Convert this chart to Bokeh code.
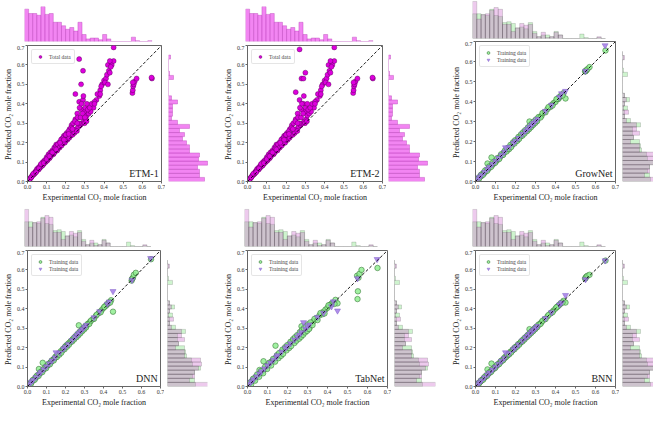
import numpy as np
from bokeh.plotting import figure
from bokeh.layouts import row, column
from bokeh.models import (Range1d, FixedTicker, PrintfTickFormatter, Slope, Label,
                          Legend, LegendItem)
from bokeh.core.properties import value
from bokeh.embed import file_html
from bokeh.resources import INLINE

# ---- data ----
tick_values = [0.0, 0.1, 0.2, 0.3, 0.4, 0.5, 0.6, 0.7]

exp_train = [0.005, 0.01, 0.015, 0.02, 0.025, 0.03, 0.035, 0.04, 0.045, 0.05,
             0.055, 0.06, 0.065, 0.07, 0.075, 0.08, 0.085, 0.09, 0.095, 0.10,
             0.105, 0.11, 0.115, 0.12, 0.125, 0.13, 0.135, 0.14, 0.145, 0.15,
             0.16, 0.165, 0.17, 0.18, 0.185, 0.19, 0.20, 0.205, 0.21, 0.22,
             0.225, 0.23, 0.24, 0.25, 0.255, 0.26, 0.265, 0.27, 0.275, 0.28,
             0.285, 0.29, 0.295, 0.30, 0.305, 0.31, 0.32, 0.33, 0.345, 0.36,
             0.375, 0.38, 0.39, 0.40, 0.41, 0.415, 0.42, 0.425, 0.43, 0.44,
             0.45, 0.548, 0.55, 0.552, 0.555, 0.56, 0.57, 0.65,
             0.008, 0.018, 0.028, 0.038, 0.048, 0.058, 0.068, 0.078, 0.088, 0.098,
             0.108, 0.118, 0.128, 0.138, 0.148, 0.155, 0.158, 0.168, 0.175, 0.178,
             0.188, 0.195, 0.198, 0.208, 0.215, 0.218, 0.228, 0.235, 0.238, 0.245,
             0.248, 0.258, 0.262, 0.268, 0.272, 0.278, 0.282, 0.288, 0.292, 0.298,
             0.302, 0.308, 0.315, 0.325, 0.335, 0.35, 0.365, 0.385, 0.405, 0.435]
exp_test = [0.01, 0.02, 0.03, 0.045, 0.06, 0.07, 0.085, 0.10, 0.115, 0.13,
            0.145, 0.15, 0.17, 0.19, 0.20, 0.215, 0.235, 0.25, 0.26, 0.27,
            0.28, 0.29, 0.30, 0.31, 0.35, 0.38, 0.42, 0.43, 0.45, 0.55, 0.648]

etm1_train = [0.006, 0.012, 0.016, 0.024, 0.030, 0.035, 0.038, 0.050, 0.052, 0.065,
              0.060, 0.075, 0.070, 0.085, 0.080, 0.100, 0.090, 0.110, 0.100, 0.125,
              0.110, 0.140, 0.120, 0.150, 0.135, 0.160, 0.140, 0.175, 0.155, 0.190,
              0.170, 0.200, 0.185, 0.220, 0.195, 0.235, 0.210, 0.250, 0.220, 0.270,
              0.235, 0.290, 0.250, 0.320, 0.270, 0.350, 0.280, 0.410, 0.290, 0.370,
              0.300, 0.420, 0.310, 0.360, 0.320, 0.340, 0.350, 0.360, 0.380, 0.420,
              0.440, 0.470, 0.500, 0.520, 0.530, 0.550, 0.600, 0.570, 0.560, 0.600,
              0.620, 0.455, 0.470, 0.490, 0.500, 0.515, 0.530, 0.530,
              0.009, 0.020, 0.034, 0.042, 0.058, 0.062, 0.080, 0.082, 0.104, 0.105,
              0.130, 0.125, 0.152, 0.145, 0.180, 0.160, 0.190, 0.175, 0.215, 0.185,
              0.225, 0.200, 0.240, 0.215, 0.260, 0.225, 0.275, 0.240, 0.300, 0.250,
              0.310, 0.260, 0.330, 0.300, 0.380, 0.330, 0.400, 0.350, 0.440, 0.300,
              0.380, 0.310, 0.370, 0.380, 0.400, 0.410, 0.450, 0.490, 0.510, 0.590]
etm1_test = [0.010, 0.022, 0.040, 0.048, 0.068, 0.090, 0.095, 0.115, 0.130, 0.150,
             0.170, 0.165, 0.200, 0.215, 0.240, 0.245, 0.270, 0.450, 0.300, 0.630,
             0.500, 0.570, 0.330, 0.400, 0.400, 0.450, 0.500, 0.620, 0.690, 0.510, 0.535]

etm2_train = [0.006, 0.012, 0.016, 0.024, 0.030, 0.035, 0.038, 0.050, 0.052, 0.065,
              0.060, 0.075, 0.070, 0.085, 0.080, 0.100, 0.090, 0.110, 0.100, 0.125,
              0.110, 0.140, 0.120, 0.150, 0.135, 0.160, 0.140, 0.175, 0.155, 0.190,
              0.170, 0.200, 0.185, 0.220, 0.195, 0.235, 0.210, 0.250, 0.220, 0.270,
              0.235, 0.290, 0.250, 0.320, 0.270, 0.350, 0.280, 0.420, 0.290, 0.370,
              0.300, 0.400, 0.310, 0.360, 0.320, 0.340, 0.350, 0.360, 0.380, 0.420,
              0.440, 0.470, 0.500, 0.520, 0.530, 0.550, 0.600, 0.570, 0.560, 0.600,
              0.620, 0.455, 0.470, 0.490, 0.500, 0.515, 0.530, 0.530,
              0.009, 0.020, 0.034, 0.042, 0.058, 0.062, 0.080, 0.082, 0.104, 0.105,
              0.130, 0.125, 0.152, 0.145, 0.180, 0.160, 0.190, 0.175, 0.215, 0.185,
              0.225, 0.200, 0.240, 0.215, 0.260, 0.225, 0.275, 0.240, 0.300, 0.250,
              0.310, 0.260, 0.330, 0.300, 0.380, 0.330, 0.400, 0.350, 0.440, 0.300,
              0.380, 0.310, 0.370, 0.380, 0.400, 0.410, 0.450, 0.490, 0.510, 0.590]
etm2_test = [0.010, 0.022, 0.040, 0.048, 0.068, 0.090, 0.095, 0.115, 0.130, 0.150,
             0.170, 0.165, 0.200, 0.215, 0.240, 0.245, 0.270, 0.460, 0.300, 0.680,
             0.530, 0.530, 0.560, 0.400, 0.400, 0.450, 0.500, 0.620, 0.690, 0.510, 0.535]

grownet_train = [0.008, 0.012, 0.013, 0.022, 0.027, 0.028, 0.037, 0.042, 0.043, 0.052,
                 0.057, 0.090, 0.063, 0.072, 0.077, 0.120, 0.083, 0.092, 0.097, 0.102,
                 0.103, 0.112, 0.117, 0.118, 0.127, 0.132, 0.133, 0.142, 0.147, 0.152,
                 0.158, 0.167, 0.172, 0.178, 0.187, 0.192, 0.202, 0.207, 0.208, 0.222,
                 0.227, 0.228, 0.242, 0.252, 0.253, 0.262, 0.263, 0.300, 0.273, 0.282,
                 0.283, 0.292, 0.297, 0.302, 0.303, 0.312, 0.322, 0.328, 0.347, 0.362,
                 0.373, 0.382, 0.392, 0.398, 0.412, 0.413, 0.422, 0.427, 0.432, 0.442,
                 0.415, 0.550, 0.552, 0.553, 0.557, 0.562, 0.572, 0.655,
                 0.012, 0.015, 0.034, 0.034, 0.055, 0.053, 0.075, 0.073, 0.096, 0.093,
                 0.116, 0.112, 0.136, 0.133, 0.156, 0.150, 0.166, 0.162, 0.183, 0.172,
                 0.196, 0.190, 0.206, 0.203, 0.223, 0.213, 0.236, 0.230, 0.246, 0.240,
                 0.256, 0.252, 0.270, 0.262, 0.280, 0.272, 0.290, 0.283, 0.300, 0.292,
                 0.310, 0.302, 0.322, 0.320, 0.342, 0.346, 0.372, 0.380, 0.412, 0.430]
grownet_test = [0.012, 0.022, 0.032, 0.047, 0.062, 0.072, 0.087, 0.102, 0.117, 0.132,
                0.147, 0.170, 0.172, 0.192, 0.202, 0.217, 0.237, 0.252, 0.262, 0.272,
                0.282, 0.292, 0.302, 0.312, 0.352, 0.382, 0.422, 0.440, 0.452, 0.552, 0.680]

dnn_train = [0.007, 0.013, 0.017, 0.021, 0.028, 0.032, 0.036, 0.043, 0.047, 0.053,
             0.058, 0.090, 0.067, 0.073, 0.078, 0.122, 0.088, 0.093, 0.098, 0.104,
             0.108, 0.113, 0.118, 0.123, 0.128, 0.133, 0.138, 0.143, 0.148, 0.153,
             0.163, 0.168, 0.173, 0.183, 0.188, 0.193, 0.206, 0.212, 0.213, 0.224,
             0.228, 0.232, 0.243, 0.254, 0.258, 0.263, 0.268, 0.315, 0.278, 0.284,
             0.288, 0.295, 0.298, 0.304, 0.308, 0.313, 0.324, 0.334, 0.348, 0.364,
             0.378, 0.384, 0.393, 0.404, 0.414, 0.418, 0.424, 0.428, 0.434, 0.444,
             0.385, 0.545, 0.553, 0.556, 0.560, 0.575, 0.585, 0.655,
             0.011, 0.014, 0.033, 0.035, 0.054, 0.054, 0.074, 0.074, 0.094, 0.094,
             0.114, 0.114, 0.134, 0.134, 0.154, 0.152, 0.164, 0.164, 0.181, 0.174,
             0.194, 0.192, 0.204, 0.205, 0.221, 0.215, 0.234, 0.232, 0.244, 0.242,
             0.254, 0.254, 0.268, 0.264, 0.278, 0.274, 0.288, 0.285, 0.298, 0.294,
             0.308, 0.304, 0.320, 0.322, 0.340, 0.348, 0.370, 0.382, 0.410, 0.432]
dnn_test = [0.013, 0.023, 0.033, 0.048, 0.063, 0.073, 0.088, 0.103, 0.118, 0.133,
            0.148, 0.175, 0.174, 0.194, 0.204, 0.218, 0.238, 0.254, 0.265, 0.275,
            0.285, 0.295, 0.306, 0.316, 0.355, 0.386, 0.425, 0.436, 0.490, 0.548, 0.660]

tabnet_train = [0.009, 0.015, 0.020, 0.026, 0.031, 0.036, 0.042, 0.047, 0.052, 0.057,
                0.062, 0.085, 0.069, 0.075, 0.080, 0.130, 0.090, 0.096, 0.101, 0.107,
                0.111, 0.117, 0.122, 0.128, 0.131, 0.137, 0.142, 0.210, 0.152, 0.158,
                0.167, 0.172, 0.178, 0.188, 0.192, 0.198, 0.208, 0.213, 0.218, 0.229,
                0.232, 0.238, 0.249, 0.259, 0.262, 0.268, 0.272, 0.310, 0.282, 0.289,
                0.292, 0.299, 0.302, 0.294, 0.312, 0.302, 0.326, 0.336, 0.352, 0.366,
                0.372, 0.385, 0.396, 0.405, 0.418, 0.421, 0.426, 0.431, 0.428, 0.446,
                0.428, 0.570, 0.450, 0.490, 0.560, 0.580, 0.600, 0.610,
                0.016, 0.010, 0.040, 0.030, 0.062, 0.050, 0.080, 0.068, 0.102, 0.090,
                0.122, 0.108, 0.142, 0.128, 0.162, 0.146, 0.172, 0.158, 0.190, 0.168,
                0.202, 0.186, 0.212, 0.198, 0.230, 0.208, 0.244, 0.224, 0.254, 0.236,
                0.264, 0.246, 0.280, 0.256, 0.290, 0.266, 0.300, 0.278, 0.310, 0.286,
                0.320, 0.296, 0.330, 0.316, 0.348, 0.342, 0.378, 0.376, 0.418, 0.425]
tabnet_test = [0.014, 0.025, 0.036, 0.051, 0.066, 0.077, 0.092, 0.108, 0.122, 0.137,
               0.152, 0.160, 0.178, 0.197, 0.207, 0.221, 0.241, 0.256, 0.266, 0.278,
               0.330, 0.297, 0.309, 0.318, 0.357, 0.378, 0.412, 0.437, 0.390, 0.556, 0.655]

bnn_train = [0.006, 0.011, 0.016, 0.021, 0.026, 0.031, 0.036, 0.041, 0.046, 0.051,
             0.057, 0.088, 0.066, 0.071, 0.076, 0.118, 0.086, 0.091, 0.096, 0.101,
             0.106, 0.111, 0.116, 0.121, 0.126, 0.131, 0.136, 0.141, 0.146, 0.151,
             0.161, 0.166, 0.171, 0.181, 0.186, 0.191, 0.201, 0.206, 0.211, 0.221,
             0.226, 0.231, 0.241, 0.251, 0.256, 0.261, 0.266, 0.295, 0.276, 0.281,
             0.286, 0.291, 0.296, 0.301, 0.306, 0.311, 0.321, 0.331, 0.346, 0.361,
             0.376, 0.381, 0.391, 0.401, 0.411, 0.416, 0.421, 0.426, 0.431, 0.441,
             0.432, 0.555, 0.558, 0.562, 0.566, 0.570, 0.575, 0.648,
             0.010, 0.016, 0.031, 0.035, 0.052, 0.055, 0.072, 0.075, 0.092, 0.095,
             0.112, 0.115, 0.132, 0.135, 0.152, 0.154, 0.162, 0.165, 0.179, 0.175,
             0.192, 0.192, 0.202, 0.205, 0.219, 0.215, 0.232, 0.232, 0.242, 0.242,
             0.252, 0.255, 0.266, 0.265, 0.276, 0.275, 0.286, 0.285, 0.296, 0.295,
             0.306, 0.305, 0.318, 0.322, 0.338, 0.347, 0.368, 0.382, 0.408, 0.432]
bnn_test = [0.011, 0.021, 0.031, 0.046, 0.061, 0.071, 0.086, 0.101, 0.116, 0.131,
            0.146, 0.175, 0.171, 0.191, 0.201, 0.216, 0.236, 0.251, 0.261, 0.271,
            0.281, 0.291, 0.301, 0.311, 0.351, 0.381, 0.421, 0.431, 0.470, 0.551, 0.648]

# histogram counts (bins of width 0.021 starting at 0)
etm_top = [37, 32, 32, 30, 40, 31, 32, 22, 22, 18, 14, 16, 12, 22, 8, 3, 4, 4, 2, 8,
           3, 0, 0, 0, 0, 0, 5, 1, 0, 0, 1]
etm_right = [36, 31, 31, 29, 39, 30, 31, 21, 21, 18, 14, 16, 11, 21, 9, 3, 4, 4, 4, 9,
             3, 0, 0, 0, 0, 5, 1, 0, 0, 0, 2]
train_top = [28, 28, 27, 26, 33, 26, 25, 18, 19, 17, 12, 13, 11, 18, 8, 2, 4, 4, 2, 8,
             4, 0, 0, 0, 0, 5, 1, 0, 0, 1, 0]
test_top = [42, 22, 27, 28, 32, 35, 33, 16, 16, 8, 12, 17, 15, 16, 6, 2, 7, 1, 2, 7,
            4, 0, 0, 0, 0, 0, 0, 0, 0, 2, 0]
train_right = [28, 27, 25, 27, 33, 25, 24, 19, 18, 17, 11, 10, 10, 18, 8, 2, 2, 5, 2, 7,
               2, 0, 0, 0, 0, 5, 1, 0, 0, 1, 0]
test_right = [41, 22, 27, 27, 31, 34, 33, 17, 17, 8, 11, 17, 14, 14, 4, 2, 6, 1, 2, 4,
              2, 0, 0, 0, 0, 0, 0, 0, 0, 2, 0]

bin_width = 0.021
edges = np.arange(len(etm_top) + 1) * bin_width

FONT = "Liberation Serif"
ETM_FILL, ETM_EDGE = "#dd00dd", "#4a004a"
HIST_PINK, HIST_PINK_EDGE = "#f070f0", "#b030b0"
GREEN, PURPLE = "#66dd66", "#cc66cc"
HIST_EDGE = "#333333"


def make_fig(width, height, left, right, top, bottom, **kw):
    return figure(width=width, height=height, min_border_left=left, min_border_right=right,
                  min_border_top=top, min_border_bottom=bottom, toolbar_location=None,
                  output_backend="svg", title=None, **kw)


def top_hist(width, height, left, right, top, bottom, x_range, y_end, series):
    p = make_fig(width, height, left, right, top, bottom, x_range=x_range,
                 y_range=Range1d(0, y_end), x_axis_type=None, y_axis_type=None)
    p.outline_line_color = None
    for counts, fill, alpha, edge, edge_alpha in series:
        p.quad(left=edges[:-1], right=edges[1:], bottom=0, top=counts, fill_color=fill,
               fill_alpha=alpha, line_color=edge, line_width=0.5, line_alpha=edge_alpha)
    return p


def right_hist(width, height, left, right, y_range, x_end, series):
    p = make_fig(width, height, left, right, 0, 24, x_range=Range1d(0, x_end),
                 y_range=y_range, x_axis_type=None, y_axis_type=None)
    p.outline_line_color = None
    for counts, fill, alpha, edge, edge_alpha in series:
        p.quad(left=0, right=counts, bottom=edges[:-1], top=edges[1:], fill_color=fill,
               fill_alpha=alpha, line_color=edge, line_width=0.5, line_alpha=edge_alpha)
    return p


def main_fig(width, height, left, right, name):
    p = make_fig(width, height, left, right, 0, 24, x_range=Range1d(0, 0.7),
                 y_range=Range1d(0, 0.7))
    p.xaxis.axis_label = "Experimental CO\u2082 mole fraction"
    p.yaxis.axis_label = "Predicted  CO\u2082 mole fraction"
    for ax in p.axis:
        ax.ticker = FixedTicker(ticks=tick_values)
        ax.formatter = PrintfTickFormatter(format="%.1f")
        ax.major_label_text_font = FONT
        ax.major_label_text_font_size = "6px"
        ax.major_label_text_color = "#333333"
        ax.axis_label_text_font = FONT
        ax.axis_label_text_font_size = "8px"
        ax.axis_label_text_font_style = "normal"
        ax.axis_label_text_color = "#222222"
        ax.major_tick_out = 2
        ax.major_tick_in = 0
        ax.major_label_standoff = 1
        ax.axis_label_standoff = 1
        ax.axis_line_color = "#666666"
        ax.major_tick_line_color = "#666666"
    p.grid.visible = False
    p.outline_line_color = "#666666"
    p.add_layout(Slope(gradient=1, y_intercept=0, line_color="black",
                       line_dash="3 2", line_width=0.9))
    p.add_layout(Label(x=0.685, y=0.012, text=name, text_align="right",
                       text_font=FONT, text_font_size="10px", text_color="#222222"))
    return p


def style_legend(p, items):
    leg = Legend(items=items, location="top_left")
    leg.label_text_font = FONT
    leg.label_text_font_size = "5.5px"
    leg.label_height = 7
    leg.glyph_height = 7
    leg.glyph_width = 10
    leg.label_standoff = 4
    leg.spacing = 0
    leg.padding = 3
    leg.margin = 4
    leg.border_line_color = "#cccccc"
    leg.border_line_width = 0.8
    leg.border_radius = 2
    p.add_layout(leg)


def etm_panel(name, train_pred, test_pred, widths, left):
    main_w, right_w, hist_left, hist_frame = widths
    main = main_fig(main_w, 160, left, 4, name)
    r = main.scatter(exp_train + exp_test, train_pred + test_pred, marker="circle",
                     size=5, fill_color=ETM_FILL, line_color=ETM_EDGE, line_width=0.4)
    style_legend(main, [LegendItem(label=value("Total data"), renderers=[r])])
    top = top_hist(main_w, 45, left, 4, 6, 4, main.x_range, 40,
                   [(etm_top, HIST_PINK, 0.85, HIST_PINK_EDGE, 0.7)])
    right = right_hist(right_w, 160, hist_left, right_w - hist_left - hist_frame,
                       main.y_range, hist_frame,
                       [(etm_right, HIST_PINK, 0.85, HIST_PINK_EDGE, 0.7)])
    return column(top, row(main, right))


def model_panel(name, train_pred, test_pred, main_w, main_h, top_h, top_top, right_w,
                hist_frame, x_end):
    main = main_fig(main_w, main_h, 24, 4, name)
    g = main.scatter(exp_train, train_pred, marker="circle", size=5.5, fill_color="#90ee90",
                     fill_alpha=0.85, line_color="#3d7a3d", line_width=0.6)
    t = main.scatter(exp_test, test_pred, marker="inverted_triangle", size=6,
                     fill_color="#a27ae6", fill_alpha=0.85, line_color="#8060c8",
                     line_width=0.5)
    style_legend(main, [LegendItem(label=value("Training data"), renderers=[g]),
                        LegendItem(label=value("Training data"), renderers=[t])])
    top = top_hist(main_w, top_h, 24, 4, top_top, 3 if top_top == 0 else 4, main.x_range, 43,
                   [(train_top, GREEN, 0.32, HIST_EDGE, 0.35),
                    (test_top, PURPLE, 0.35, HIST_EDGE, 0.35)])
    right = right_hist(right_w, main_h, 3, right_w - 3 - hist_frame, main.y_range, x_end,
                       [(train_right, GREEN, 0.32, HIST_EDGE, 0.35),
                        (test_right, PURPLE, 0.35, HIST_EDGE, 0.35)])
    return column(top, row(main, right))


p1 = etm_panel("ETM-1", etm1_train, etm1_test, (165, 55, 3, 40), 24)
p2 = etm_panel("ETM-2", etm2_train, etm2_test, (166, 62, 2, 41), 25)
p3 = model_panel("GrowNet", grownet_train, grownet_test, 171, 164, 41, 0, 34, 31, 31)
p4 = model_panel("DNN", dnn_train, dnn_test, 164, 160, 45, 3, 56, 40, 40)
p5 = model_panel("TabNet", tabnet_train, tabnet_test, 171, 160, 45, 3, 57, 41, 41)
p6 = model_panel("BNN", bnn_train, bnn_test, 171, 160, 45, 3, 34, 31, 31)

layout = column(row(p1, p2, p3), row(p4, p5, p6))

open("out.html", "w").write(file_html(layout, INLINE))
